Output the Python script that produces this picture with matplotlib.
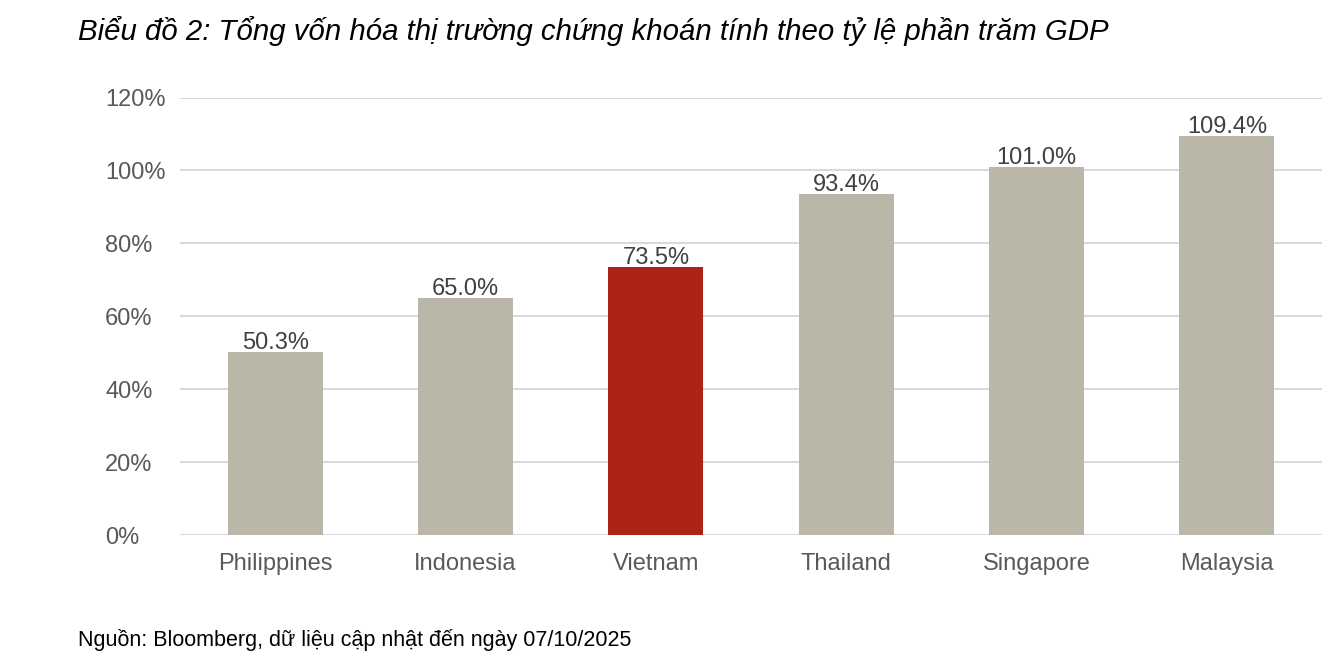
import matplotlib.pyplot as plt
import numpy as np

plt.rcParams['font.family'] = ['Liberation Sans', 'DejaVu Sans']

countries = ['Philippines', 'Indonesia', 'Vietnam', 'Thailand', 'Singapore', 'Malaysia']
values = [50.3, 65.0, 73.5, 93.4, 101.0, 109.4]
highlight = 'Vietnam'

grey = '#BAB7A8'
red = '#AE2318'
colors = [red if c == highlight else grey for c in countries]

fig = plt.figure(figsize=(13.38, 6.68), dpi=100)
ax = fig.add_axes([180/1338, 1 - 535/668, (1322-180)/1338, (535-97.5)/668])

x = np.arange(len(countries))
bars = ax.bar(x, values, width=0.5, color=colors, zorder=2)
for xi, v in zip(x, values):
    ax.annotate(f'{v:.1f}%', (xi, v), xytext=(0, 3), textcoords='offset pixels',
                ha='center', va='baseline', fontsize=17, color='#404040', zorder=3)

ax.set_xlim(-0.5, 5.5)
ax.set_ylim(0, 120)
ax.set_yticks(np.arange(0, 121, 20))
ax.set_yticklabels([f'{t}%' for t in range(0, 121, 20)])
ax.set_xticks(x)
ax.set_xticklabels(countries)
ax.grid(axis='y', color='#D9D9D9', linewidth=1.5, zorder=0)
for s in ax.spines.values():
    s.set_visible(False)
ax.tick_params(axis='both', length=0, labelsize=17, labelcolor='#595959')
ax.tick_params(axis='y', pad=54)
ax.tick_params(axis='x', pad=13)
for lbl in ax.get_yticklabels():
    lbl.set_horizontalalignment('left')

fig.text(78/1338, 1 - 31/668, 'Biểu đồ 2: Tổng vốn hóa thị trường chứng khoán tính theo tỷ lệ phần trăm GDP',
         fontsize=21.2, style='italic', va='center', ha='left', color='black')
fig.text(78/1338, 1 - 640/668, 'Nguồn: Bloomberg, dữ liệu cập nhật đến ngày 07/10/2025',
         fontsize=15.5, va='center', ha='left', color='black')

fig.savefig('out.png', dpi=100)
